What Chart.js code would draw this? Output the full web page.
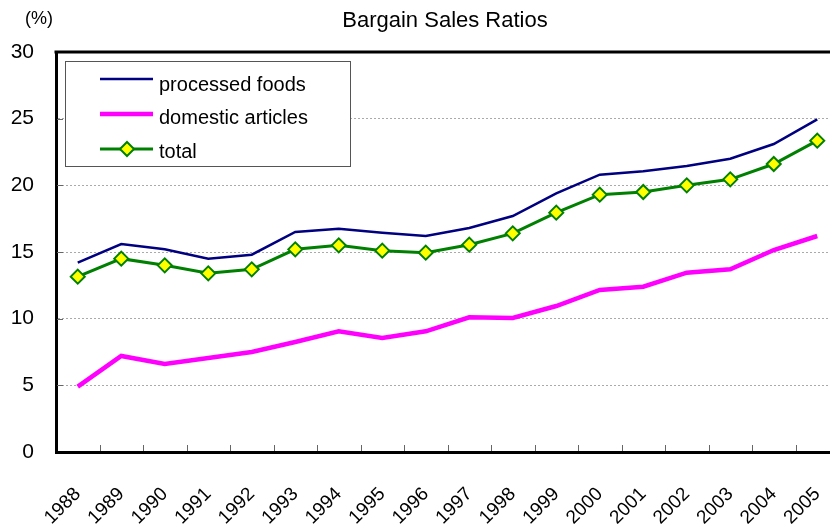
<!DOCTYPE html>
<html lang="en">
<head>
    <meta charset="UTF-8">
    <title>Bargain Sales Ratios</title>
    <script src="https://cdn.jsdelivr.net/npm/chart.js"></script>
    <style>
        html, body {
            margin: 0;
            padding: 0;
            background: #fff;
            overflow: hidden;
        }
        #wrap {
            width: 840px;
            height: 529px;
        }
    </style>
</head>
<body>
    <div id="wrap">
        <canvas id="salesChart" width="840" height="529"></canvas>
    </div>

    <script>
        // Data
        const years = ['1988', '1989', '1990', '1991', '1992', '1993', '1994', '1995', '1996',
                       '1997', '1998', '1999', '2000', '2001', '2002', '2003', '2004', '2005'];
        const processedFoods = [14.2, 15.6, 15.2, 14.5, 14.8, 16.5, 16.75, 16.45, 16.2,
                                16.8, 17.7, 19.4, 20.8, 21.05, 21.45, 22.0, 23.1, 24.95];
        const domesticArticles = [4.9, 7.2, 6.6, 7.05, 7.5, 8.25, 9.05, 8.55, 9.05,
                                  10.1, 10.05, 10.95, 12.15, 12.4, 13.45, 13.7, 15.15, 16.2];
        const total = [13.15, 14.5, 14.0, 13.4, 13.7, 15.2, 15.5, 15.1, 14.95,
                       15.55, 16.4, 17.95, 19.3, 19.5, 20.0, 20.45, 21.6, 23.35];
        const yTicks = [0, 5, 10, 15, 20, 25, 30];

        const FONT = '"Liberation Sans", Arial, sans-serif';

        // Title, unit label, frame, inside tick marks and the boxed legend
        const decorations = {
            id: 'decorations',
            afterDraw(chart) {
                const ctx = chart.ctx;
                const area = chart.chartArea;
                const x = chart.scales.x;
                const y = chart.scales.y;
                ctx.save();

                // title and unit
                ctx.fillStyle = '#000';
                ctx.font = '22px ' + FONT;
                ctx.textAlign = 'center';
                ctx.textBaseline = 'middle';
                ctx.fillText('Bargain Sales Ratios', 445, 21);
                ctx.font = '18px ' + FONT;
                ctx.fillText('(%)', 39, 19);

                // top frame line
                ctx.strokeStyle = '#000';
                ctx.lineWidth = 3;
                ctx.beginPath();
                ctx.moveTo(area.left - 1.5, area.top);
                ctx.lineTo(area.right, area.top);
                ctx.stroke();

                // inside tick marks
                ctx.strokeStyle = '#666';
                ctx.lineWidth = 1;
                const half = (x.getPixelForValue(1) - x.getPixelForValue(0)) / 2;
                for (let i = 1; i < years.length; i++) {
                    const px = Math.round(x.getPixelForValue(i) - half) + 0.5;
                    ctx.beginPath();
                    ctx.moveTo(px, area.bottom - 1);
                    ctx.lineTo(px, area.bottom - 7);
                    ctx.stroke();
                }
                yTicks.forEach(v => {
                    if (v === 0 || v === 30) return;
                    const py = Math.round(y.getPixelForValue(v)) + 0.5;
                    ctx.beginPath();
                    ctx.moveTo(area.left + 1, py);
                    ctx.lineTo(area.left + 7, py);
                    ctx.stroke();
                });

                // legend box
                const lx = 65, ly = 61, lw = 285, lh = 105;
                ctx.fillStyle = '#fff';
                ctx.fillRect(lx, ly, lw, lh);
                ctx.strokeStyle = '#555';
                ctx.lineWidth = 1;
                ctx.strokeRect(lx + 0.5, ly + 0.5, lw, lh);

                const entries = chart.data.datasets;
                const lineRows = [79, 114, 149];
                const textRows = [91, 124, 158];
                ctx.font = '20px ' + FONT;
                ctx.textAlign = 'left';
                ctx.textBaseline = 'alphabetic';
                entries.forEach((ds, i) => {
                    const ry = lineRows[i];
                    ctx.strokeStyle = ds.borderColor;
                    ctx.lineWidth = ds.borderWidth;
                    ctx.beginPath();
                    ctx.moveTo(100, ry);
                    ctx.lineTo(153, ry);
                    ctx.stroke();
                    if (ds.pointRadius > 0) {
                        const r = ds.pointRadius;
                        ctx.fillStyle = ds.pointBackgroundColor;
                        ctx.strokeStyle = ds.pointBorderColor;
                        ctx.lineWidth = ds.pointBorderWidth;
                        ctx.beginPath();
                        ctx.moveTo(127, ry - r);
                        ctx.lineTo(127 + r, ry);
                        ctx.lineTo(127, ry + r);
                        ctx.lineTo(127 - r, ry);
                        ctx.closePath();
                        ctx.fill();
                        ctx.stroke();
                    }
                    ctx.fillStyle = '#000';
                    ctx.fillText(ds.label, 159, textRows[i]);
                });

                ctx.restore();
            }
        };

        const ctx = document.getElementById('salesChart').getContext('2d');
        new Chart(ctx, {
            type: 'line',
            data: {
                labels: years,
                datasets: [{
                    label: 'processed foods',
                    data: processedFoods,
                    borderColor: '#000080',
                    borderWidth: 2.5,
                    pointRadius: 0,
                    tension: 0
                }, {
                    label: 'domestic articles',
                    data: domesticArticles,
                    borderColor: '#FF00FF',
                    borderWidth: 4.5,
                    pointRadius: 0,
                    tension: 0
                }, {
                    label: 'total',
                    data: total,
                    borderColor: '#008000',
                    borderWidth: 3,
                    pointStyle: 'rectRot',
                    pointRadius: 7,
                    pointBackgroundColor: '#FFFF00',
                    pointBorderColor: '#008000',
                    pointBorderWidth: 2,
                    tension: 0
                }]
            },
            options: {
                responsive: false,
                animation: false,
                layout: {
                    autoPadding: false,
                    padding: { top: 52, right: 1, left: 0, bottom: 0 }
                },
                plugins: {
                    legend: { display: false },
                    title: { display: false },
                    tooltip: { enabled: false }
                },
                scales: {
                    x: {
                        offset: true,
                        grid: { display: false, drawTicks: false },
                        border: { display: true, color: '#000', width: 3 },
                        ticks: {
                            color: '#000',
                            font: { family: FONT, size: 19 },
                            maxRotation: 45,
                            minRotation: 45,
                            padding: 31,
                            autoSkip: false
                        },
                        afterFit(scale) {
                            scale.height = 77;
                            scale.paddingLeft = 0;
                            scale.paddingRight = 0;
                        }
                    },
                    y: {
                        min: 0,
                        max: 30,
                        grid: {
                            color: '#aaa',
                            lineWidth: 1,
                            drawTicks: false
                        },
                        border: { display: true, color: '#000', width: 3, dash: [2, 2] },
                        ticks: {
                            stepSize: 5,
                            color: '#000',
                            font: { family: FONT, size: 21 },
                            padding: 22
                        },
                        afterFit(scale) {
                            scale.width = 56;
                            scale.paddingTop = 0;
                            scale.paddingBottom = 0;
                        }
                    }
                }
            },
            plugins: [decorations]
        });
    </script>
</body>
</html>
